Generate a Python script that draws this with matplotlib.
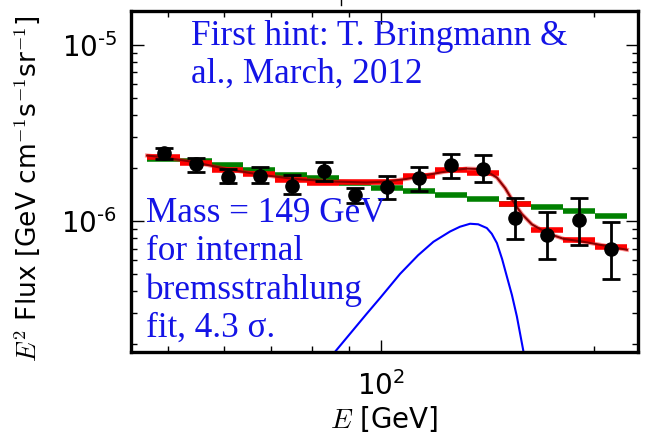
import numpy as np
import matplotlib as mpl
mpl.use('Agg')
from matplotlib import pyplot as plt
from matplotlib.lines import Line2D
import matplotlib.ticker as mt

plt.rcParams['mathtext.fontset'] = 'cm'
plt.rcParams['font.family'] = 'DejaVu Sans'

# Fermi-LAT bins (GeV): edges of the 15 log-spaced bins
bin_edges = [46.7, 51.9, 57.6, 63.9, 70.9, 78.7, 87.3, 96.9, 107.5,
             119.3, 132.4, 146.9, 163.1, 180.9, 200.8, 222.8]

# measured points, E^2 dN/dE
e_pts = [49.4, 54.7, 60.7, 67.4, 74.8, 83.1, 91.9, 102.0, 113.3,
         125.6, 139.5, 154.7, 171.6, 190.5, 211.3]
flux_pts = [2.44e-6, 2.10e-6, 1.785e-6, 1.81e-6, 1.59e-6, 1.93e-6, 1.405e-6, 1.57e-6,
            1.75e-6, 2.08e-6, 1.99e-6, 1.05e-6, 0.84e-6, 1.02e-6, 0.70e-6]
flux_hi = [2.62e-6, 2.30e-6, 1.99e-6, 2.02e-6, 1.82e-6, 2.17e-6, 1.55e-6, 1.81e-6,
           2.03e-6, 2.40e-6, 2.37e-6, 1.36e-6, 1.13e-6, 1.35e-6, 0.99e-6]
flux_lo = [2.26e-6, 1.91e-6, 1.64e-6, 1.64e-6, 1.42e-6, 1.69e-6, 1.27e-6, 1.33e-6,
           1.49e-6, 1.77e-6, 1.67e-6, 0.79e-6, 0.614e-6, 0.73e-6, 0.468e-6]

# binned models: background only (green) and background + line (red)
bkg_binned = [2.27e-6, 2.19e-6, 2.08e-6, 1.95e-6, 1.84e-6, 1.75e-6, 1.64e-6, 1.55e-6,
              1.49e-6, 1.41e-6, 1.33e-6, 1.26e-6, 1.20e-6, 1.14e-6, 1.07e-6]
fit_binned = [2.32e-6, 2.13e-6, 1.96e-6, 1.85e-6, 1.72e-6, 1.65e-6, 1.66e-6, 1.67e-6,
              1.80e-6, 1.96e-6, 1.88e-6, 1.26e-6, 0.89e-6, 0.78e-6, 0.71e-6]

# smooth total fit
e_fit = [46.7, 48.7, 54.3, 60.5, 67.4, 75.2, 85.6, 95.4, 101.9, 108.7, 118.6, 126.6,
         132.0, 136.6, 141.1, 145.8, 149.8, 153.8, 158.1, 163.4, 171.6, 181.1, 193.2,
         204.1, 222.6]
flux_fit = [2.36e-6, 2.32e-6, 2.17e-6, 1.98e-6, 1.84e-6, 1.74e-6, 1.68e-6, 1.66e-6,
            1.68e-6, 1.74e-6, 1.86e-6, 1.95e-6, 1.99e-6, 1.98e-6, 1.92e-6, 1.77e-6,
            1.54e-6, 1.29e-6, 1.10e-6, 0.96e-6, 0.857e-6, 0.795e-6, 0.765e-6,
            0.735e-6, 0.689e-6]

# internal bremsstrahlung component, m = 149 GeV
e_ib = [84.5, 95.4, 99.7, 106.4, 112.8, 118.6, 125.2, 129.3, 133.6, 137.2, 141.1,
        143.4, 145.8, 148.3, 150.6, 153.1, 155.6, 159.8]
flux_ib = [1.66e-7, 2.98e-7, 3.67e-7, 5.03e-7, 6.41e-7, 7.65e-7, 8.75e-7, 9.31e-7,
           9.68e-7, 9.61e-7, 9.15e-7, 8.49e-7, 7.52e-7, 6.1e-7, 4.86e-7, 3.82e-7,
           2.88e-7, 1.63e-7]

fig = plt.figure(figsize=(6.48, 4.42), dpi=100)
ax = fig.add_axes([0.202, 0.204, 0.783, 0.771])

ax.hlines(bkg_binned, bin_edges[:-1], bin_edges[1:], color='green', lw=4.0)
ax.hlines(fit_binned, bin_edges[:-1], bin_edges[1:], color='red', lw=4.0)
ax.plot(e_fit, flux_fit, color='red', lw=3.0, alpha=0.45)
ax.plot(e_fit, flux_fit, color='darkred', lw=1.5)
ax.plot(e_ib, flux_ib, color='blue', lw=1.5)

yerr = [np.array(flux_pts) - np.array(flux_lo), np.array(flux_hi) - np.array(flux_pts)]
ax.errorbar(e_pts, flux_pts, yerr=yerr, fmt='o', color='black', ms=9.5,
            elinewidth=2.0, capsize=6.5, capthick=2.0, zorder=5)

ax.set_xscale('log')
ax.set_yscale('log')
ax.set_xlim(44.3, 231.0)
ax.set_ylim(1.815e-7, 1.56e-5)

ax.xaxis.set_major_locator(mt.FixedLocator([100]))
ax.xaxis.set_major_formatter(mt.FixedFormatter([r'$\mathregular{10^{2}}$']))
ax.xaxis.set_minor_locator(mt.LogLocator(base=10, subs=np.arange(2, 10)))
ax.xaxis.set_minor_formatter(mt.NullFormatter())
ax.yaxis.set_major_locator(mt.FixedLocator([1e-6, 1e-5]))
ax.yaxis.set_major_formatter(mt.FixedFormatter([r'$\mathregular{10^{‐6}}$', r'$\mathregular{10^{‐5}}$']))
ax.yaxis.set_minor_locator(mt.LogLocator(base=10, subs=np.arange(2, 10)))
ax.yaxis.set_minor_formatter(mt.NullFormatter())

ax.tick_params(which='both', direction='in', top=True, right=True, labelsize=20, width=1.0)
ax.tick_params(axis='y', which='major', length=9, pad=10)
ax.tick_params(axis='x', which='major', length=9, pad=14)
ax.tick_params(which='minor', length=4.5)
for s in ax.spines.values():
    s.set_linewidth(2.4)

ax.set_xlabel(r'$E$ [GeV]', fontsize=20, labelpad=2)
ax.set_ylabel(r'$E^2$ Flux [GeV cm$^{-1}$s$^{-1}$sr$^{-1}$]', fontsize=19)
ax.yaxis.set_label_coords(-0.176, 0.478)

txt = dict(color='#1414e6', family='Liberation Serif', fontsize=25.3, transform=fig.transFigure,
           va='baseline', ha='left')
fig.text(191 / 648, 1 - 45 / 442, 'First hint: T. Bringmann &', **txt)
fig.text(191 / 648, 1 - 83 / 442, 'al., March, 2012', **txt)
for i, line in enumerate(['Mass = 149 GeV', 'for internal', 'bremsstrahlung', 'fit, 4.3 σ.']):
    fig.text(146 / 648, 1 - (222 + 38.3 * i) / 442, line, **txt)

# clipped mark above the frame
fig.add_artist(Line2D([341 / 648, 341 / 648], [1.0, 1 - 5 / 442], color='black', lw=1.0))

fig.savefig('out.png', dpi=100)
